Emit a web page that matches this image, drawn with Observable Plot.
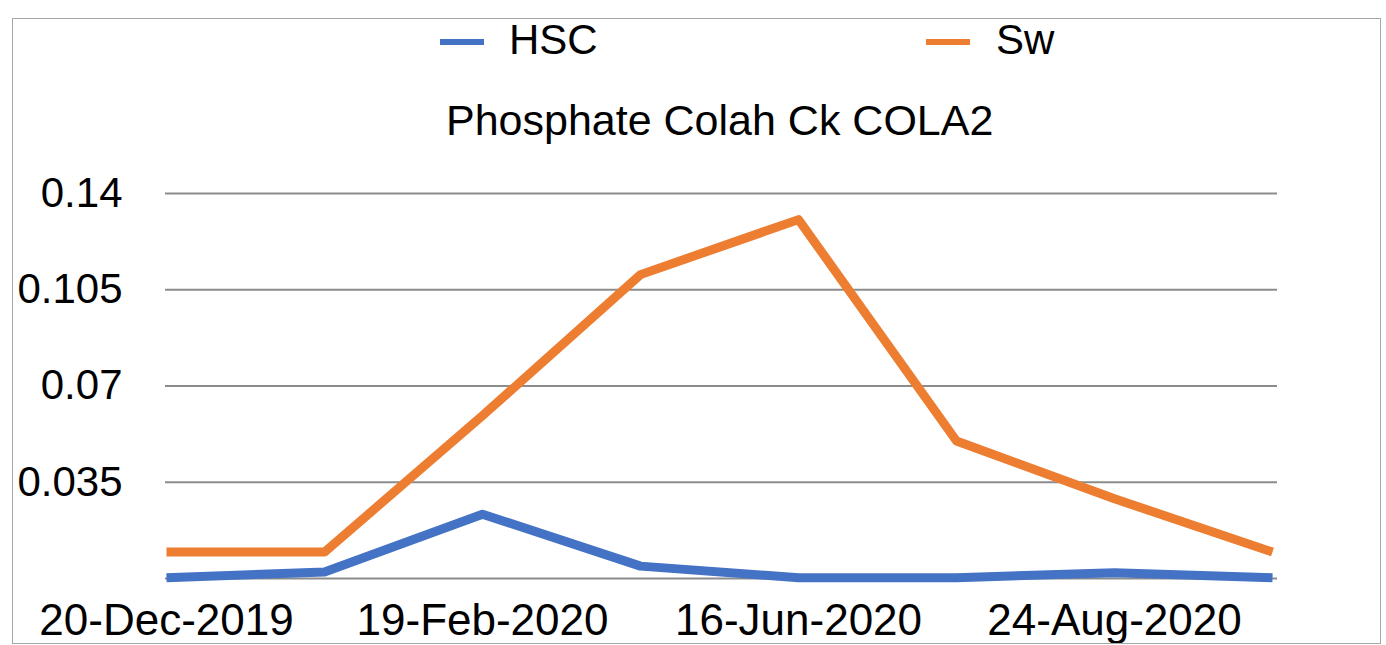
<!DOCTYPE html>
<html>
<head>
<meta charset="utf-8">
<script src="https://cdn.jsdelivr.net/npm/d3@7"></script>
<script src="https://cdn.jsdelivr.net/npm/@observablehq/plot@0.6"></script>
<style>
  html, body { margin: 0; padding: 0; background: #fff; }
  #wrap { position: relative; width: 1386px; height: 645px; overflow: hidden;
          font-family: "Liberation Sans", Arial, Helvetica, sans-serif; color: #000; }
  #frame { position: absolute; left: 12px; top: 18px; width: 1367px; height: 624px;
           border: 1px solid #a8a8a8; pointer-events: none; z-index: 2; }
  #header { position: relative; width: 1386px; height: 160px; }
  .sw { position: absolute; height: 6px; width: 44px; }
  .lt { position: absolute; font-size: 42px; line-height: 1; white-space: nowrap; }
  #title { position: absolute; left: 446px; top: 98.6px; font-size: 43px; line-height: 1; white-space: nowrap; }
  #chart { display: block; }
</style>
</head>
<body>
<div id="wrap">
  <div id="frame"></div>
  <div id="header"></div>
  <div id="chart"></div>
</div>
<script>
// ---- data ----
const seriesNames = ["HSC", "Sw"];
const seriesColors = ["#4472C4", "#ED7D31"];
const sampleSlots = [1, 2, 3, 4, 5, 6, 7, 8];
const hscValues = [0.0003, 0.0024, 0.0234, 0.0045, 0.0003, 0.0003, 0.0021, 0.0003];
const swValues  = [0.0096, 0.0096, 0.0592, 0.1105, 0.1305, 0.0500, 0.0290, 0.0096];
const xTickSlots = [1, 3, 5, 7];
const xTickLabels = ["20-Dec-2019", "19-Feb-2020", "16-Jun-2020", "24-Aug-2020"];
const yGrid = [0, 0.035, 0.07, 0.105, 0.14];
const yTickLabels = [0.035, 0.07, 0.105, 0.14];
const titleText = "Phosphate Colah Ck COLA2";

// ---- header (legend + title) ----
const header = document.getElementById("header");
const legendPos = [
  {sw: 440, txt: 509},
  {sw: 926, txt: 996}
];
seriesNames.forEach((name, i) => {
  const s = document.createElement("div");
  s.className = "sw";
  s.style.left = legendPos[i].sw + "px";
  s.style.top = "39px";
  s.style.background = seriesColors[i];
  header.appendChild(s);
  const t = document.createElement("div");
  t.className = "lt";
  t.style.left = legendPos[i].txt + "px";
  t.style.top = "19.4px";
  t.textContent = name;
  header.appendChild(t);
});
const title = document.createElement("div");
title.id = "title";
title.textContent = titleText;
header.appendChild(title);

// ---- chart ----
const rows = [];
sampleSlots.forEach((slot, i) => {
  rows.push({slot, series: "HSC", value: hscValues[i]});
  rows.push({slot, series: "Sw", value: swValues[i]});
});

const fontFamily = "'Liberation Sans', Arial, Helvetica, sans-serif";
const chart = Plot.plot({
  width: 1386,
  height: 485,
  marginLeft: 165,
  marginRight: 113,
  marginTop: 33,
  marginBottom: 67,
  x: {type: "point", domain: sampleSlots, padding: 0},
  y: {domain: [0, 0.14]},
  color: {domain: seriesNames, range: seriesColors},
  style: {fontFamily, fontSize: "42px", color: "#000", background: "transparent", overflow: "visible"},
  marks: [
    Plot.ruleY(yGrid, {stroke: "#8c8c8c", strokeWidth: 2, strokeOpacity: 1, insetRight: -4}),
    Plot.axisY({ticks: yTickLabels, tickSize: 0, tickPadding: 43, fontSize: 42,
                tickFormat: d => String(d), label: null}),
    Plot.axisX({ticks: xTickSlots, tickSize: 0, tickPadding: 25, fontSize: 44,
                tickFormat: d => xTickLabels[xTickSlots.indexOf(d)], label: null}),
    Plot.line(rows, {x: "slot", y: "value", z: "series", stroke: "series",
                     strokeWidth: 9, strokeLinejoin: "round", strokeLinecap: "butt"})
  ]
});
document.getElementById("chart").appendChild(chart);
</script>
</body>
</html>
